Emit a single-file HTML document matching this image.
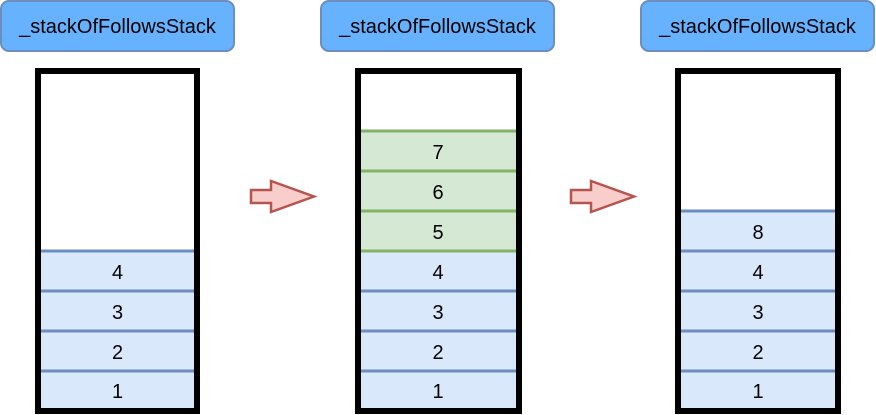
<!DOCTYPE html>
<html><head><meta charset="utf-8"><style>
html,body{margin:0;padding:0;background:#fff;width:876px;height:415px;overflow:hidden}
svg{display:block}
text{font-family:"Liberation Sans",Arial,sans-serif}
</style></head><body>
<svg width="876" height="415" viewBox="0 0 876 415" xmlns="http://www.w3.org/2000/svg">
<g fill="#66b2ff" stroke="#6c8ebf" stroke-width="2">
<rect x="1" y="1" width="233" height="50" rx="8"/>
<rect x="321" y="1" width="233" height="50" rx="8"/>
<rect x="641" y="1" width="233" height="50" rx="8"/>
</g>
<g font-size="20" text-anchor="middle" fill="#000">
<text x="117.5" y="33">_stackOfFollowsStack</text>
<text x="437.5" y="33">_stackOfFollowsStack</text>
<text x="757.5" y="33">_stackOfFollowsStack</text>
</g>
<rect x="35" y="68" width="165" height="346" fill="#000"/>
<rect x="41" y="74" width="153" height="334" fill="#fff"/>
<rect x="355" y="68" width="167" height="346" fill="#000"/>
<rect x="361" y="74" width="155" height="334" fill="#fff"/>
<rect x="675" y="68" width="166" height="346" fill="#000"/>
<rect x="681" y="74" width="154" height="334" fill="#fff"/>
<rect x="41" y="251" width="153" height="157" fill="#dae8fc"/>
<g stroke="#6c8ebf" stroke-width="3">
<line x1="41" x2="194" y1="251" y2="251"/><line x1="41" x2="194" y1="291" y2="291"/>
<line x1="41" x2="194" y1="331" y2="331"/><line x1="41" x2="194" y1="371" y2="371"/>
</g>
<rect x="361" y="131" width="155" height="120" fill="#d5e8d4"/>
<rect x="361" y="251" width="155" height="157" fill="#dae8fc"/>
<g stroke="#82b366" stroke-width="3">
<line x1="361" x2="516" y1="131" y2="131"/><line x1="361" x2="516" y1="171" y2="171"/>
<line x1="361" x2="516" y1="211" y2="211"/>
</g>
<g stroke="#6c8ebf" stroke-width="3">
<line x1="361" x2="516" y1="291" y2="291"/><line x1="361" x2="516" y1="331" y2="331"/><line x1="361" x2="516" y1="371" y2="371"/>
</g>
<line x1="361" x2="516" y1="251" y2="251" stroke="#82b366" stroke-width="3"/>
<rect x="681" y="211" width="154" height="197" fill="#dae8fc"/>
<g stroke="#6c8ebf" stroke-width="3">
<line x1="681" x2="835" y1="211" y2="211"/><line x1="681" x2="835" y1="251" y2="251"/>
<line x1="681" x2="835" y1="291" y2="291"/><line x1="681" x2="835" y1="331" y2="331"/><line x1="681" x2="835" y1="371" y2="371"/>
</g>
<g font-size="20" text-anchor="middle" fill="#000">
<text x="117.5" y="279">4</text><text x="117.5" y="319">3</text><text x="117.5" y="359">2</text><text x="117.5" y="398">1</text>
<text x="438" y="159">7</text><text x="438" y="199">6</text><text x="438" y="239">5</text>
<text x="438" y="279">4</text><text x="438" y="319">3</text><text x="438" y="359">2</text><text x="438" y="398">1</text>
<text x="758" y="239">8</text><text x="758" y="279">4</text><text x="758" y="319">3</text><text x="758" y="359">2</text><text x="758" y="398">1</text>
</g>
<g fill="#f8cecc" stroke="#b85450" stroke-width="2.5" stroke-linejoin="miter">
<polygon points="251,190 271,190 271,181 314,196.5 271,212 271,203 251,203"/>
<polygon points="571,190 591,190 591,181 634,196.5 591,212 591,203 571,203"/>
</g>
</svg>
</body></html>
